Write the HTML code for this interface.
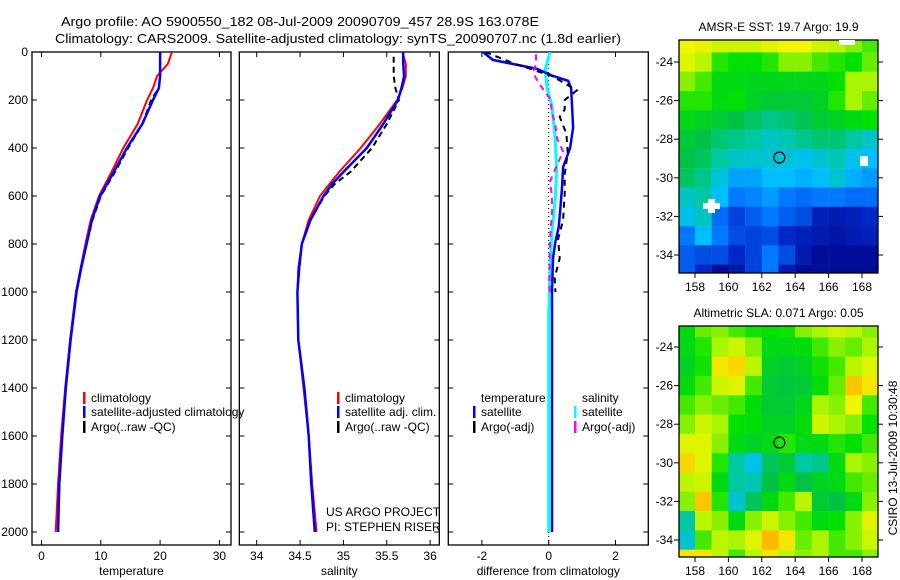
<!DOCTYPE html>
<html><head><meta charset="utf-8">
<style>
html,body{margin:0;padding:0;background:#fff;}
svg{display:block;font-family:"Liberation Sans",sans-serif;}
text{font-size:12px;fill:#000;}
</style></head>
<body>
<svg id="fig" width="900" height="580" viewBox="0 0 900 580" xmlns="http://www.w3.org/2000/svg">
<text x="61" y="26" textLength="478" lengthAdjust="spacingAndGlyphs" style="font-size:13px">Argo profile: AO 5900550_182 08-Jul-2009 20090709_457 28.9S 163.078E</text>
<text x="55" y="43" textLength="566" lengthAdjust="spacingAndGlyphs" style="font-size:13px">Climatology: CARS2009. Satellite-adjusted climatology: synTS_20090707.nc (1.8d earlier)</text>
<g id="layer"></g>
</svg>
<script>
// ---------- profile data ----------
const depths = [0,50,100,150,200,300,400,500,600,700,800,900,1000,1200,1400,1600,1800,2000];
const tempClim = [22,21.3,19.5,18.8,17.8,16.2,13.8,11.8,9.7,8.3,7.4,6.6,5.8,4.8,4.0,3.3,2.8,2.4];
const tempSat  = [20,20,20,19.8,18.8,17.0,14.4,12.2,9.9,8.5,7.6,6.7,5.9,4.9,4.1,3.5,3.0,2.8];
const argoDepths = [0,50,100,150,200,300,400,500,600,700,800,900,1000];
const tempArgo = [20,20,20,19.8,18.5,17.0,14.6,12.4,10.0,8.6,7.6,6.7,5.9];
const salDepths = [0,50,100,150,200,300,400,500,550,600,700,800,900,1000,1200,1400,1600,1800,2000];
const salClim = [35.68,35.72,35.72,35.68,35.62,35.42,35.2,34.95,34.84,34.73,34.6,34.52,34.48,34.47,34.48,34.54,34.6,34.64,34.69];
const salSat  = [35.69,35.69,35.70,35.67,35.63,35.46,35.27,35.0,34.87,34.77,34.62,34.52,34.49,34.47,34.48,34.55,34.6,34.63,34.67];
const salArgoDepths = [20,60,100,150,200,300,400,500,550,600,700,800,900,1000];
const salArgo = [35.58,35.58,35.58,35.6,35.64,35.5,35.33,35.08,34.9,34.78,34.62,34.52,34.49,34.47];
const dTDepths = [0,33,50,70,100,120,150,230,315,400,480,560,650,730,790,860,1000,1400,2000];
const dTSat = [-1.97,-1.67,-1.07,-0.35,0.13,0.58,0.67,0.7,0.73,0.64,0.43,0.4,0.35,0.3,0.2,0.13,0.1,0.1,0.1];
const dTArgoDepths = [0,50,100,160,200,240,270,340,420,510,590,700,780,860,940,1000];
const dTArgo = [-1.9,-1.0,0.1,0.84,0.48,0.48,0.33,0.53,0.57,0.48,0.48,0.43,0.28,0.33,0.18,0.2];
const dSDepths = [0,70,150,220,350,490,625,765,900,1100,2000];
const dSSat = [0.04,-0.1,-0.05,0.09,0.19,0.24,0.19,0.09,0.04,0.0,0.0];
const dSArgoDepths = [10,50,85,125,195,250,305,360,415,470,540,600,670,780,850,950,1010];
const dSArgo = [-0.38,-0.38,-0.47,-0.32,0.04,0.1,0.2,0.25,0.43,0.25,0.04,0.1,0.1,0.04,0.03,0.02,0.03];
const depthTicks = [0,200,400,600,800,1000,1200,1400,1600,1800,2000];
const tempTicks = [0,10,20,30];
const salTicks = [34,34.5,35,35.5,36];
const salTickLabels = ["34","34.5","35","35.5","36"];
const diffTicks = [-2,0,2];
// ---------- map data (rows lat -23..-35, cols lon 157.5..168.5) ----------
const mapLats = [-23,-24,-25,-26,-27,-28,-29,-30,-31,-32,-33,-34,-35];
const mapLons = [157.5,158.5,159.5,160.5,161.5,162.5,163.5,164.5,165.5,166.5,167.5,168.5];
const sstGrid = [
[0.84,0.83,0.8,0.8,0.8,0.82,0.84,0.84,0.8,0.78,0.74,0.7],
[0.82,0.78,0.68,0.66,0.66,0.68,0.74,0.74,0.7,0.68,0.66,0.72],
[0.74,0.7,0.64,0.64,0.63,0.63,0.63,0.63,0.63,0.66,0.76,0.76],
[0.68,0.68,0.64,0.66,0.62,0.6,0.6,0.6,0.62,0.68,0.76,0.72],
[0.64,0.62,0.6,0.58,0.55,0.52,0.54,0.57,0.6,0.62,0.64,0.66],
[0.6,0.58,0.54,0.52,0.5,0.46,0.48,0.52,0.54,0.54,0.5,0.46],
[0.58,0.56,0.5,0.46,0.45,0.45,0.44,0.42,0.45,0.48,0.42,0.4],
[0.56,0.52,0.44,0.36,0.36,0.4,0.4,0.38,0.4,0.45,0.38,0.35],
[0.46,0.5,0.4,0.3,0.32,0.35,0.3,0.28,0.3,0.3,0.28,0.28],
[0.42,0.46,0.28,0.2,0.25,0.3,0.25,0.22,0.12,0.1,0.12,0.15],
[0.3,0.4,0.3,0.22,0.2,0.22,0.15,0.12,0.1,0.08,0.1,0.12],
[0.25,0.22,0.22,0.15,0.2,0.3,0.22,0.1,0.05,0.05,0.05,0.05],
[0.25,0.15,0.05,0.1,0.2,0.3,0.1,0.05,0.05,0.04,0.04,0.04]];
const slaGrid = [
[0.64,0.72,0.74,0.7,0.67,0.66,0.67,0.74,0.76,0.8,0.78,0.74],
[0.64,0.68,0.76,0.8,0.74,0.64,0.64,0.65,0.7,0.74,0.72,0.76],
[0.62,0.67,0.86,0.88,0.78,0.62,0.6,0.62,0.67,0.7,0.78,0.82],
[0.65,0.7,0.8,0.82,0.7,0.6,0.59,0.6,0.65,0.72,0.9,0.86],
[0.7,0.74,0.72,0.7,0.65,0.6,0.6,0.63,0.76,0.74,0.84,0.7],
[0.74,0.8,0.76,0.66,0.65,0.62,0.62,0.65,0.8,0.76,0.74,0.66],
[0.82,0.82,0.74,0.64,0.62,0.64,0.68,0.64,0.64,0.68,0.66,0.7],
[0.88,0.82,0.68,0.5,0.42,0.56,0.6,0.5,0.52,0.64,0.76,0.74],
[0.78,0.8,0.64,0.5,0.48,0.58,0.64,0.58,0.62,0.64,0.7,0.72],
[0.74,0.9,0.68,0.45,0.56,0.64,0.7,0.78,0.6,0.58,0.64,0.74],
[0.5,0.78,0.74,0.64,0.74,0.8,0.74,0.7,0.64,0.66,0.74,0.82],
[0.45,0.7,0.78,0.76,0.82,0.92,0.86,0.72,0.76,0.7,0.74,0.8],
[0.86,0.86,0.78,0.7,0.78,0.86,0.78,0.74,0.76,0.7,0.7,0.74]];
const lonTicks = [158,160,162,164,166,168];
const latTicks = [-24,-26,-28,-30,-32,-34];
const argoLon = 163.05, argoLat = -28.95;

const NS = "http://www.w3.org/2000/svg";
const layer = document.getElementById('layer');
function el(tag, attrs, parent){ const e=document.createElementNS(NS,tag); for(const k in attrs) e.setAttribute(k,attrs[k]); (parent||layer).appendChild(e); return e; }
function txt(s, attrs, parent){ const e=el('text',attrs,parent); e.textContent=s; return e; }

const yD = d => 52 + d*0.24;
const xT = v => 41.5 + v*5.93;
const xS = v => 256.7 + (v-34)*86.7;
const xDf = v => 548.7 + v*33.4;

function line(xs, ds, xf, color, w, dash, name){
  let p = xs.map((v,i)=>(i?'L':'M')+xf(v).toFixed(1)+','+yD(ds[i]).toFixed(1)).join('');
  const e = el('path',{d:p,fill:'none',stroke:color,'stroke-width':w});
  if(dash) e.setAttribute('stroke-dasharray',dash);
  
  
  return e;
}

function panel(x0,x1,ticks,labels,xf,name,title){
  const g = el('g',{});
  
  
  el('rect',{x:x0,y:52,width:x1-x0,height:493,fill:'none',stroke:'#000','stroke-width':1.3},g);
  ticks.forEach((t,i)=>{
    const x=xf(t);
    el('line',{x1:x,y1:545,x2:x,y2:540,stroke:'#000'},g);
    el('line',{x1:x,y1:52,x2:x,y2:57,stroke:'#000'},g);
    const l = txt(labels[i],{x:x,y:560,'text-anchor':'middle'},g);
    
    
  });
  depthTicks.forEach(d=>{
    el('line',{x1:x0,y1:yD(d),x2:x0+5,y2:yD(d),stroke:'#000'},g);
    el('line',{x1:x1,y1:yD(d),x2:x1-5,y2:yD(d),stroke:'#000'},g);
  });
  const t = txt(title,{x:(x0+x1)/2,y:575,'text-anchor':'middle'},g);
  
  
  return g;
}

depthTicks.forEach(d=>{
  const t = txt(String(d),{x:28,y:yD(d)+4,'text-anchor':'end'});
  
  
});

panel(32,231,tempTicks,tempTicks.map(String),xT,'temperature-panel','temperature');
panel(239.3,439.3,salTicks,salTickLabels,xS,'salinity-panel','salinity');
panel(448.3,648.3,diffTicks,diffTicks.map(String),xDf,'difference-panel','difference from climatology');

const defs = el('defs',{});
[['c1',32,231],['c2',239.3,439.3],['c3',448.3,648.3]].forEach(c=>{
  const cp = el('clipPath',{id:c[0]},defs);
  el('rect',{x:c[1],y:52,width:c[2]-c[1],height:493},cp);
});
function clipG(id,name){ const g=el('g',{'clip-path':'url(#'+id+')'});   return g; }

let g1 = clipG('c1','temperature-series');
g1.appendChild(line(tempArgo,argoDepths,xT,'#000',2,'6,4','argo-temperature-line'));
g1.appendChild(line(tempClim,depths,xT,'#f00',2,null,'climatology-temperature-line'));
g1.appendChild(line(tempSat,depths,xT,'#00f',2.5,null,'satellite-temperature-line'));
let g2 = clipG('c2','salinity-series');
g2.appendChild(line(salArgo,salArgoDepths,xS,'#000',2,'6,4','argo-salinity-line'));
g2.appendChild(line(salClim,salDepths,xS,'#f00',2,null,'climatology-salinity-line'));
g2.appendChild(line(salSat,salDepths,xS,'#00f',2.5,null,'satellite-salinity-line'));
let g3 = clipG('c3','difference-series');
const zl = el('line',{x1:xDf(0),y1:52,x2:xDf(0),y2:545,stroke:'#000','stroke-width':1,'stroke-dasharray':'1,3'},g3);


g3.appendChild(line(dSSat,dSDepths,xDf,'#0ff',3,null,'salinity-satellite-diff-line'));
g3.appendChild(line(dTSat,dTDepths,xDf,'#00f',2.5,null,'temperature-satellite-diff-line'));
g3.appendChild(line(dSArgo,dSArgoDepths,xDf,'#f0f',2,'6,5','salinity-argo-diff-line'));
g3.appendChild(line(dTArgo,dTArgoDepths,xDf,'#000',2,'6,5','temperature-argo-diff-line'));

function legend(x,y,color,label,name){
  const g = el('g',{});
  
  
  if(color) el('rect',{x:x,y:y-10,width:2.5,height:12,fill:color},g);
  txt(label,{x:x+8,y:y},g);
}
legend(83,402,'#f00','climatology','legend-climatology');
legend(83,416,'#00f','satellite-adjusted climatology','legend-satellite-adjusted');
legend(83,431,'#000','Argo(..raw -QC)','legend-argo-raw');
legend(337,402,'#f00','climatology','legend-sal-climatology');
legend(337,416,'#00f','satellite adj. clim.','legend-sal-satellite');
legend(337,431,'#000','Argo(..raw -QC)','legend-sal-argo');
legend(473,402,null,'temperature','legend-temperature-header');
legend(473,416,'#00f','satellite','legend-temp-satellite');
legend(473,431,'#000','Argo(-adj)','legend-temp-argo');
legend(574,402,null,'salinity','legend-salinity-header');
legend(574,416,'#0ff','satellite','legend-sal-sat-diff');
legend(574,431,'#f0f','Argo(-adj)','legend-sal-argo-diff');

const cr = el('g',{'clip-path':'url(#c2)'});


txt('US ARGO PROJECT',{x:326,y:516},cr);
txt('PI: STEPHEN RISER',{x:326,y:531},cr);

// ---------- maps ----------
const stops = [[0,[0,0,128]],[0.15,[0,40,200]],[0.3,[0,120,255]],[0.4,[0,190,255]],[0.5,[0,200,160]],[0.58,[0,195,70]],[0.66,[0,225,0]],[0.76,[170,245,0]],[0.84,[240,245,0]],[0.92,[255,185,0]],[1,[255,120,0]]];
function cmap(v){
  for(let i=1;i<stops.length;i++){ if(v<=stops[i][0]){ const a=stops[i-1],b=stops[i],t=(v-a[0])/(b[0]-a[0]); return 'rgb('+a[1].map((c,k)=>Math.round(c+(b[1][k]-c)*t)).join(',')+')'; } }
  return 'rgb(255,120,0)';
}
function map(top,bottom,lat24y,lat34y,grid,title,name,cid){
  const x0=679,x1=878;
  const xL = lon => 695 + (lon-158)*16.7;
  const yL = lat => lat24y + (-24-lat)*(lat34y-lat24y)/10;
  const cp = el('clipPath',{id:cid},defs);
  el('rect',{x:x0,y:top,width:x1-x0,height:bottom-top},cp);
  const g = el('g',{});
  
  
  const cells = el('g',{'clip-path':'url(#'+cid+')'},g);
  const dy = (lat34y-lat24y)/10;
  grid.forEach((row,r)=>row.forEach((v,c)=>{
    const rc = el('rect',{x:(xL(mapLons[c]-0.5)).toFixed(1),y:(yL(mapLats[r]+0.5)).toFixed(1),width:16.9,height:(dy+0.3).toFixed(1),fill:cmap(v)},cells);
    
    
  }));
  el('rect',{x:x0,y:top,width:x1-x0,height:bottom-top,fill:'none',stroke:'#000','stroke-width':1.3},g);
  lonTicks.forEach(l=>{
    el('line',{x1:xL(l),y1:bottom,x2:xL(l),y2:bottom+5,stroke:'#000'},g);
    txt(String(l),{x:xL(l),y:bottom+18,'text-anchor':'middle'},g);
  });
  latTicks.forEach(l=>{
    el('line',{x1:x0,y1:yL(l),x2:x0-5,y2:yL(l),stroke:'#000'},g);
    el('line',{x1:x1,y1:yL(l),x2:x1+5,y2:yL(l),stroke:'#000'},g);
    txt(String(l),{x:x0-6,y:yL(l)+4,'text-anchor':'end'},g);
  });
  const t = txt(title,{x:(x0+x1)/2,y:top-9,'text-anchor':'middle'},g);
  
  
  const ci = el('circle',{cx:xL(argoLon),cy:yL(argoLat),r:5.5,fill:'none',stroke:'#000','stroke-width':1.2},g);
  
  
  return {g,xL,yL};
}
const m1 = map(40,273,62,255,sstGrid,'AMSR-E SST: 19.7 Argo: 19.9','sst-map','cm1');
el('rect',{x:839,y:40,width:16,height:5,fill:'#fff'},m1.g);
el('rect',{x:860,y:156,width:8,height:10,fill:'#fff'},m1.g);
el('rect',{x:703,y:203,width:17,height:6,fill:'#fff'},m1.g);
el('rect',{x:708,y:199,width:7,height:14,fill:'#fff'},m1.g);
const m2 = map(326,557,347,540,slaGrid,'Altimetric SLA: 0.071 Argo: 0.05','sla-map','cm2');
const side = txt('CSIRO 13-Jul-2009 10:30:48',{x:0,y:0,'text-anchor':'middle',transform:'translate(897,458) rotate(-90)'});


</script>
</body></html>
